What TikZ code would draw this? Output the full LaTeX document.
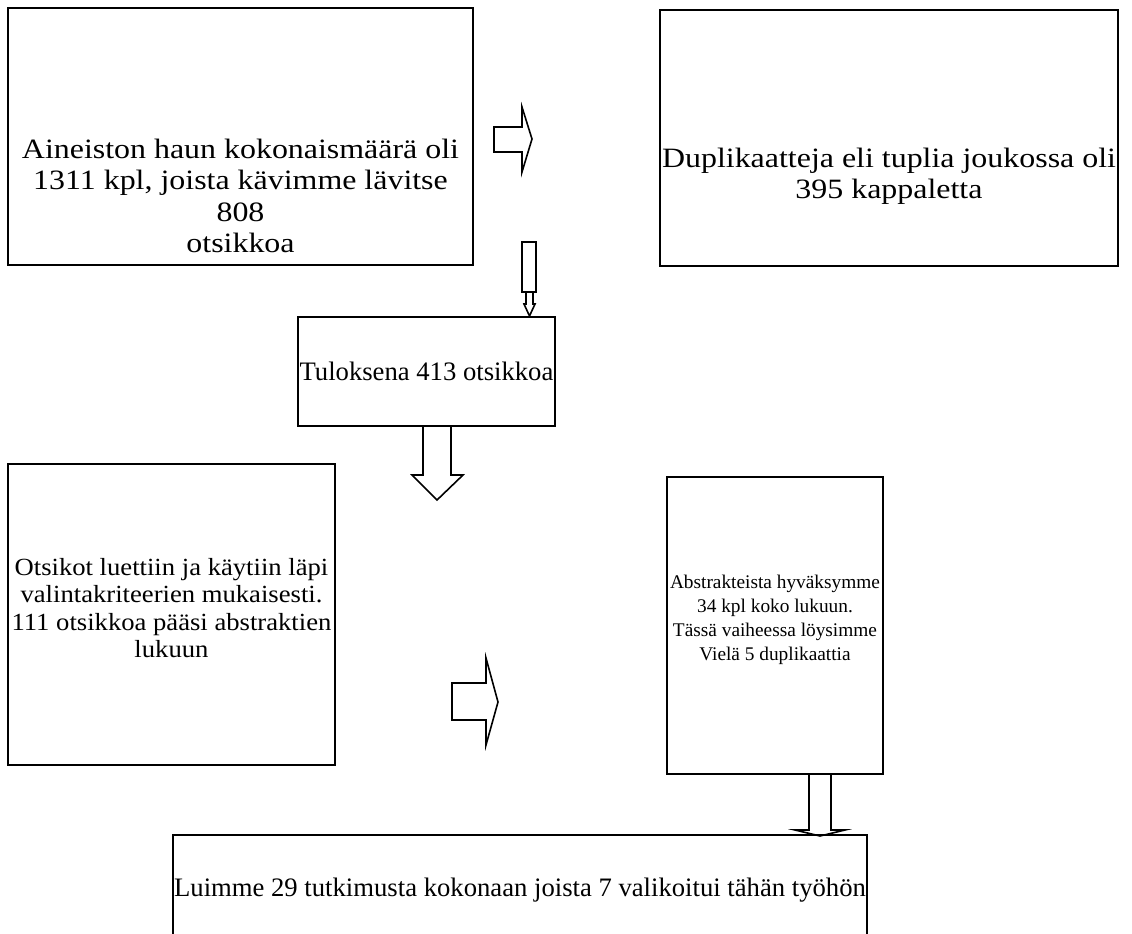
\documentclass[tikz,border=0pt]{standalone}
\usepackage{fontspec}
\setmainfont{Liberation Serif}
\newfontfamily\leveafont[FakeStretch=1.14]{Liberation Serif}
\newfontfamily\puolileveafont[FakeStretch=1.08]{Liberation Serif}
\usepackage{tikz}

\tikzset{
  laatikko/.style={draw, line width=1.5pt, align=center, inner sep=0pt},
  nuoli/.style={draw, line width=1.2pt, line join=miter},
  isoteksti/.style={font=\leveafont\fontsize{21}{23.5}\selectfont, align=center},
  pieniteksti/.style={font=\fontsize{20}{23}\selectfont},
  otsikkoteksti/.style={font=\puolileveafont\fontsize{18.5}{20.5}\selectfont, align=center},
  abstrteksti/.style={font=\fontsize{14.5}{18}\selectfont, align=center},
}

\begin{document}
\begin{tikzpicture}[x=0.75pt,y=-0.75pt]
   \useasboundingbox (0,0) rectangle (1132,933);

   % laatikot
   \node[laatikko, minimum width=348.75pt, minimum height=192.75pt] (haku) at (240.5,136.5) {};
   \node[laatikko, minimum width=343.5pt, minimum height=192pt] (tuplat) at (889,138) {};
   \node[laatikko, pieniteksti, minimum width=192.75pt, minimum height=81.75pt] (tulos) at (426.5,371.5) {Tuloksena 413 otsikkoa};
   \node[laatikko, minimum width=245.25pt, minimum height=225.75pt] (otsikot) at (171.5,614.5) {};
   \node[laatikko, minimum width=162pt, minimum height=222.75pt] (abstr) at (775,625.5) {};

   \node[isoteksti] (hakuteksti) at (240.5,196) {Aineiston haun kokonaismäärä oli\\1311 kpl, joista kävimme lävitse\\808\\otsikkoa};
   \node[isoteksti] (tuplateksti) at (889,176) {Duplikaatteja eli tuplia joukossa oli\\395 kappaletta};
   \node[otsikkoteksti] (otsikkoteksti) at (171.5,608)
      {Otsikot luettiin ja käytiin läpi\\valintakriteerien mukaisesti.\\111 otsikkoa pääsi abstraktien\\lukuun};
   \node[abstrteksti] (abstrteksti) at (775,620)
      {Abstrakteista hyväksymme\\34 kpl koko lukuun.\\Tässä vaiheessa löysimme\\Vielä 5 duplikaattia};

   % nuolet
   \draw[nuoli] (494,127) -- (522,127) -- (522,107) -- (532,139) -- (522,172) -- (522,152) -- (494,152) -- cycle;
   \draw[nuoli] (522,242) rectangle (536,292);
   \draw[nuoli] (526,292) -- (526,304) -- (524,304) -- (529.5,316) -- (535,304) -- (533,304) -- (533,292);
   \draw[nuoli] (423,426) -- (423,475) -- (412,475) -- (437,500) -- (463,475) -- (451,475) -- (451,426);
   \draw[nuoli] (452,683) -- (486,683) -- (486,658) -- (498,702) -- (486,745) -- (486,720) -- (452,720) -- cycle;
   \draw[nuoli] (809,774) -- (809,830) -- (795,830) -- (820,836) -- (845,830) -- (831,830) -- (831,774);

   \node[laatikko, pieniteksti, minimum width=520.5pt, minimum height=82.5pt] (luku) at (520,890)
      {Luimme 29 tutkimusta kokonaan joista 7 valikoitui tähän työhön};
\end{tikzpicture}
\end{document}
